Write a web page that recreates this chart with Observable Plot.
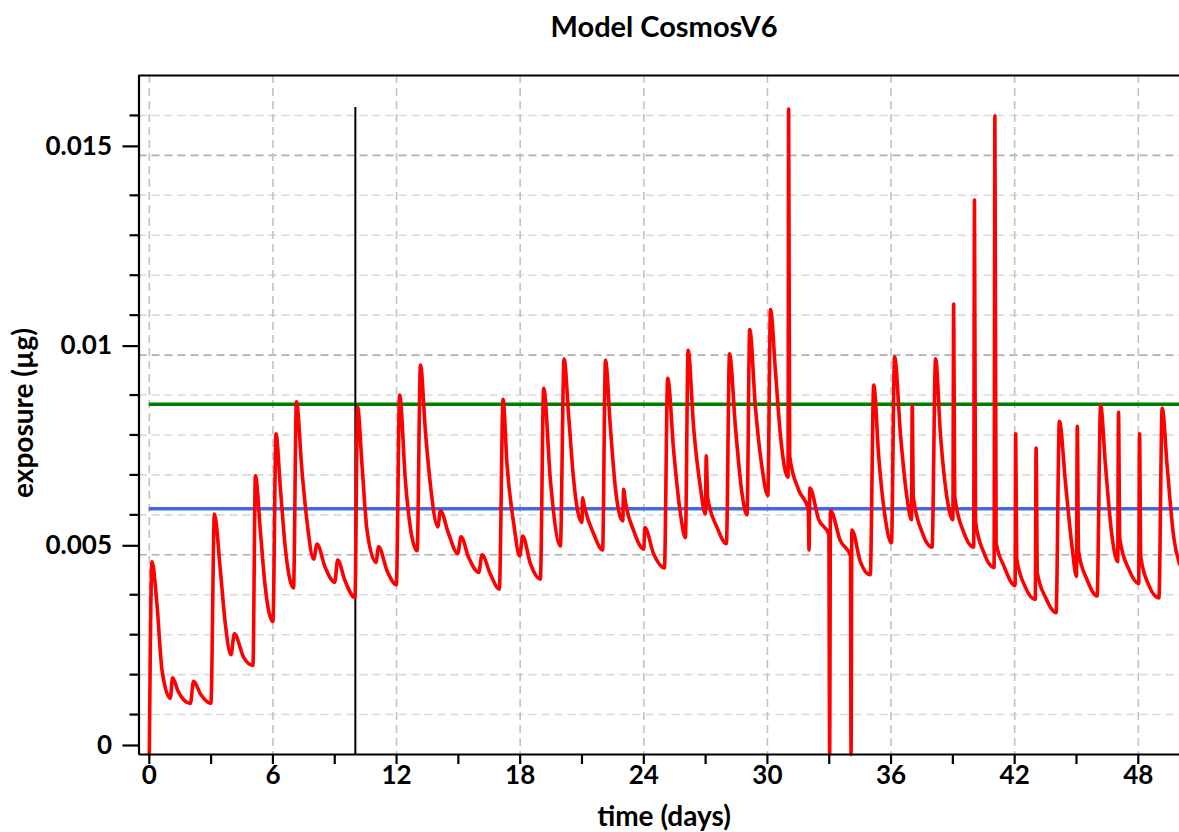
<!DOCTYPE html>
<html>
<head>
<meta charset="utf-8">
<script src="https://cdn.jsdelivr.net/npm/d3@7"></script>
<script src="https://cdn.jsdelivr.net/npm/@observablehq/plot@0.6"></script>
<style>
  html, body { margin: 0; padding: 0; background: #fff; }
  #wrap { position: relative; width: 1179px; height: 832px; overflow: hidden; font-family: Lato, "Open Sans", sans-serif; font-weight: bold; color: #000; }
  #chart { position: absolute; left: 0; top: 0; }
  .lbl { position: absolute; white-space: nowrap; line-height: 1; }
  #title { left: 664px; top: 25px; transform: translate(-50%, -50%); font-size: 29px; }
  #xlabel { left: 664px; top: 815px; transform: translate(-50%, -50%); font-size: 28px; }
  #ylabel { left: 22px; top: 413px; transform: translate(-50%, -50%) rotate(-90deg); font-size: 28px; }
</style>
</head>
<body>
<div id="wrap">
  <div id="chart"></div>
  <div class="lbl" id="title">Model CosmosV6</div>
  <div class="lbl" id="xlabel">time (days)</div>
  <div class="lbl" id="ylabel">exposure (µg)</div>
</div>
<script>
// ---- data ----
const tDays = [
  0.0, 0.13, 0.37, 0.62, 1.02, 1.13, 1.4, 1.99, 2.15, 2.5, 2.99,
  3.16, 3.45, 3.69, 3.96, 4.13, 4.58, 5.03,
  5.15, 5.39, 5.63, 6.0,
  6.15, 6.36, 6.6, 7.0,
  7.14, 7.41, 7.65, 7.98, 8.14, 8.54, 9.0, 9.14, 9.5, 9.98,
  10.11, 10.32, 10.57, 11.0, 11.13, 11.54, 11.99,
  12.15, 12.43, 12.67, 13.0,
  13.16, 13.4, 13.64, 14.0, 14.13, 14.53, 14.97, 15.13, 15.5, 15.99, 16.15, 16.55, 16.99,
  17.17, 17.36, 17.69, 17.98, 18.12, 18.5, 18.98,
  19.14, 19.47, 19.95,
  20.13, 20.36, 20.6, 21.0, 21.03, 21.1, 21.57, 22.0,
  22.14, 22.38, 22.62, 22.98, 23.02, 23.1, 23.51, 24.0, 24.05, 24.48, 25.0,
  25.16, 25.45, 25.78, 26.02,
  26.15, 26.42, 26.75, 26.99, 27.03, 27.1, 27.56, 28.01,
  28.16, 28.45, 28.77, 29.01,
  29.14, 29.42, 29.74, 30.02,
  30.15, 30.39, 30.63, 31.0, 31.03, 31.08, 31.52, 31.98, 32.02, 32.06, 32.49, 32.98,
  33.02, 33.06, 33.54, 34.03, 34.06, 34.1, 34.51, 34.99,
  35.16, 35.4, 35.73, 36.02,
  36.17, 36.46, 36.78, 36.99, 37.03, 37.08, 37.51, 37.99,
  38.16, 38.4, 38.72, 39.0, 39.04, 39.09, 39.53, 40.01, 40.05, 40.1, 40.5, 41.0,
  41.04, 41.1, 41.47, 42.02, 42.05, 42.1, 42.52, 43.0, 43.04, 43.1, 43.5, 44.01,
  44.17, 44.47, 44.79, 45.0, 45.04, 45.1, 45.52, 46.0,
  46.17, 46.41, 46.73, 47.0, 47.04, 47.1, 47.54, 48.02, 48.06, 48.12, 48.51, 49.0,
  49.16, 49.4, 49.72, 50.0
];
const exposureUg = [
  0, 0.00483, 0.00377, 0.0021, 0.00141, 0.00192, 0.00158, 0.00128, 0.00183, 0.0015, 0.00128,
  0.00602, 0.0046, 0.00327, 0.0025, 0.00302, 0.00243, 0.00223,
  0.00698, 0.0056, 0.00418, 0.00333,
  0.00803, 0.00668, 0.00518, 0.00417,
  0.00883, 0.0071, 0.00585, 0.00489, 0.00527, 0.00468, 0.00431, 0.00487, 0.00435, 0.00393,
  0.0087, 0.00727, 0.0056, 0.00481, 0.0052, 0.0046, 0.00425,
  0.009, 0.00685, 0.00568, 0.0051,
  0.00975, 0.0081, 0.00677, 0.0057, 0.0061, 0.00552, 0.00503, 0.00545, 0.00493, 0.00456, 0.005, 0.00452, 0.00414,
  0.00889, 0.00727, 0.00577, 0.00497, 0.00547, 0.00477, 0.00439,
  0.00917, 0.00685, 0.00522,
  0.0099, 0.00843, 0.00685, 0.00581, 0.00643, 0.00625, 0.00552, 0.00512,
  0.00987, 0.00818, 0.00668, 0.00585, 0.00664, 0.00635, 0.0056, 0.00514, 0.00568, 0.00502, 0.00467,
  0.00942, 0.0076, 0.00602, 0.00543,
  0.01012, 0.00818, 0.00668, 0.00602, 0.00748, 0.00643, 0.00568, 0.00528,
  0.01003, 0.00818, 0.00652, 0.006,
  0.01064, 0.00868, 0.00718, 0.00648,
  0.01114, 0.00959, 0.008, 0.00694, 0.01616, 0.00747, 0.00662, 0.00615, 0.00512, 0.00667, 0.00588, 0.00551,
  0, 0.0061, 0.00535, 0.00498, 0, 0.00562, 0.00483, 0.0045,
  0.00925, 0.00747, 0.00588, 0.0053,
  0.00996, 0.008, 0.00641, 0.00588, 0.00874, 0.00646, 0.00556, 0.00519,
  0.00991, 0.008, 0.00641, 0.00588, 0.01128, 0.00646, 0.00556, 0.00519, 0.01388, 0.00583, 0.00506, 0.00468,
  0.01599, 0.0053, 0.00473, 0.00423, 0.00803, 0.0049, 0.00419, 0.00388, 0.00767, 0.00455, 0.00393, 0.00355,
  0.00834, 0.00678, 0.00518, 0.00446, 0.00822, 0.00508, 0.00437, 0.00397,
  0.00874, 0.00722, 0.00544, 0.00483, 0.00857, 0.0054, 0.00464, 0.00428, 0.00803, 0.00495, 0.00424, 0.00392,
  0.00867, 0.00722, 0.00544, 0.00477
];
const upperLevel = [0.00877];   // green line
const lowerLevel = [0.00615];   // blue line
const markerDay = [10];         // black vertical line
const markerTop = 0.0162;
const xMajorTicks = [0, 6, 12, 18, 24, 30, 36, 42, 48];
const xMinorTicks = [3, 9, 15, 21, 27, 33, 39, 45];
const yMajorTicks = [0, 0.005, 0.01, 0.015];
const yMinorTicks = [0.001, 0.002, 0.003, 0.004, 0.006, 0.007, 0.008, 0.009, 0.011, 0.012, 0.013, 0.014, 0.016];
const yTickLabels = ["0", "0.005", "0.01", "0.015"];

const series = tDays.map((t, i) => ({t, v: exposureUg[i]}));
const tStart = d3.min(tDays), tEnd = d3.max(tDays);

const dash = "8,5";
const chart = Plot.plot({
  width: 1179,
  height: 832,
  marginLeft: 138.5,
  marginRight: 0,
  marginTop: 75,
  marginBottom: 78,
  x: {domain: [-0.5, 50], label: null},
  y: {domain: [0, 0.017], label: null},
  style: {fontFamily: "Lato, 'Open Sans', sans-serif", fontSize: "26px", fontWeight: "bold", background: "white", color: "black", overflow: "visible"},
  marks: [
    Plot.gridY(yMinorTicks, {stroke: "#d9d9d9", strokeOpacity: 1, strokeWidth: 1.6, strokeDasharray: dash}),
    Plot.gridY(yMajorTicks.slice(1), {stroke: "#b0b0b0", strokeOpacity: 1, strokeWidth: 1.6, strokeDasharray: dash}),
    Plot.gridX(xMajorTicks, {stroke: "#c2c2c2", strokeOpacity: 1, strokeWidth: 1.6, strokeDasharray: dash}),
    Plot.ruleY(upperLevel, {x1: tStart, x2: tEnd, stroke: "#008000", strokeWidth: 3.5}),
    Plot.ruleY(lowerLevel, {x1: tStart, x2: tEnd, stroke: "#4169e1", strokeWidth: 3.5}),
    Plot.ruleX(markerDay, {y1: 0, y2: markerTop, stroke: "black", strokeWidth: 2}),
    Plot.line(series, {x: "t", y: "v", stroke: "#ff0000", strokeWidth: 3.6, curve: "monotone-x"}),
    Plot.ruleY([0], {stroke: "black", strokeWidth: 2.2}),
    Plot.ruleY([0.017], {stroke: "black", strokeWidth: 2.2}),
    Plot.ruleX([-0.5], {stroke: "black", strokeWidth: 2.2}),
    Plot.axisY(yMajorTicks, {anchor: "left", tickSize: 16, tickPadding: 11, strokeWidth: 2.2, dy: -9,
      tickFormat: (d) => yTickLabels[yMajorTicks.indexOf(d)], label: null}),
    Plot.axisY(yMinorTicks, {anchor: "left", tickSize: 9, strokeWidth: 2.2, tickFormat: () => "", label: null}),
    Plot.axisX(xMajorTicks, {anchor: "bottom", tickSize: 10, tickPadding: 1, strokeWidth: 2.2,
      tickFormat: (d) => String(d), label: null}),
    Plot.axisX(xMinorTicks, {anchor: "bottom", tickSize: 10, strokeWidth: 2.2, tickFormat: () => "", label: null})
  ]
});
document.getElementById("chart").appendChild(chart);
</script>
</body>
</html>
